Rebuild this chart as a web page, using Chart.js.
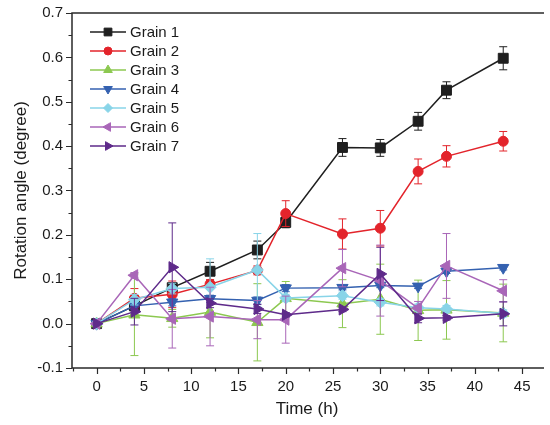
<!DOCTYPE html>
<html>
<head>
<meta charset="utf-8">
<script src="https://cdn.jsdelivr.net/npm/chart.js@4/dist/chart.umd.min.js"></script>
<style>
html, body { margin: 0; padding: 0; background: #fff; }
#wrap { width: 550px; height: 425px; position: relative; }
</style>
</head>
<body>
<div id="wrap"><canvas id="chart"></canvas></div>
<script>
// time points (h)
const times = [0, 4, 8, 12, 17, 20, 26, 30, 34, 37, 43];

// rotation angle (degree) per grain
const grain1 = [0, 0.040, 0.081, 0.118, 0.166, 0.228, 0.397, 0.396, 0.456, 0.526, 0.598];
const grain2 = [0, 0.057, 0.066, 0.089, 0.120, 0.248, 0.202, 0.215, 0.343, 0.377, 0.411];
const grain3 = [0, 0.020, 0.012, 0.026, 0.003, 0.057, 0.045, 0.055, 0.030, 0.031, 0.024];
const grain4 = [0, 0.040, 0.048, 0.056, 0.052, 0.080, 0.081, 0.086, 0.084, 0.118, 0.126];
const grain5 = [0, 0.054, 0.079, 0.082, 0.121, 0.058, 0.063, 0.048, 0.036, 0.033, 0.023];
const grain6 = [0, 0.109, 0.011, 0.016, 0.009, 0.009, 0.125, 0.097, 0.035, 0.130, 0.074];
const grain7 = [0, 0.027, 0.127, 0.046, 0.033, 0.020, 0.032, 0.112, 0.012, 0.013, 0.022];

// error bars (+/-)
const err1 = [0, 0.010, 0.010, 0.020, 0.020, 0.012, 0.020, 0.019, 0.020, 0.019, 0.026];
const err2 = [0, 0.022, 0.030, 0.010, 0.010, 0.029, 0.034, 0.040, 0.028, 0.024, 0.022];
const err3 = [0, 0.092, 0.020, 0.058, 0.087, 0.038, 0.054, 0.079, 0.068, 0.066, 0.065];
const err4 = [0, 0.008, 0.008, 0.008, 0.008, 0.008, 0.005, 0.005, 0.005, 0.005, 0.005];
const err5 = [0, 0.012, 0.012, 0.064, 0.082, 0.008, 0.008, 0.008, 0.008, 0.008, 0.008];
const err6 = [0, 0.006, 0.066, 0.066, 0.043, 0.053, 0.042, 0.080, 0.015, 0.073, 0.025];
const err7 = [0, 0.030, 0.100, 0.010, 0.010, 0.005, 0.005, 0.060, 0.010, 0.005, 0.027];

const names = ['Grain 1', 'Grain 2', 'Grain 3', 'Grain 4', 'Grain 5', 'Grain 6', 'Grain 7'];
const xTicks = [0, 5, 10, 15, 20, 25, 30, 35, 40, 45];
const yTicks = [-0.1, 0, 0.1, 0.2, 0.3, 0.4, 0.5, 0.6, 0.7];

const series = [grain1, grain2, grain3, grain4, grain5, grain6, grain7];
const errors = [err1, err2, err3, err4, err5, err6, err7];
const colors = ['#1f1f1f', '#e3242b', '#8cc850', '#3461b0', '#88d4e8', '#a966b8', '#5e2a8a'];
const shapes = ['rect', 'circle', 'triangle', 'triangle', 'rectRot', 'triangle', 'triangle'];
const rotations = [0, 0, 0, 180, 0, 270, 90];
const radii = [7, 5, 6.5, 6.5, 6, 6.5, 6.5];
const legendRadii = [5.5, 4, 5, 5, 4.5, 5, 5];

const FONT = '"Liberation Sans", Arial, sans-serif';

const datasets = series.map((vals, i) => ({
    label: names[i],
    data: vals.map((v, j) => ({ x: times[j], y: v })),
    errors: errors[i],
    borderColor: colors[i],
    backgroundColor: colors[i],
    borderWidth: 1.5,
    pointStyle: shapes[i],
    pointRotation: rotations[i],
    pointRadius: radii[i],
    pointBorderWidth: 1,
    tension: 0,
    order: -i,
    clip: false
}));

// vertical error bars, drawn under each dataset's markers
const errorBars = {
    id: 'errorBars',
    beforeDatasetDraw(chart, args) {
        const ds = chart.data.datasets[args.index];
        const y = chart.scales.y;
        const ctx = chart.ctx;
        ctx.save();
        ctx.strokeStyle = ds.borderColor;
        ctx.lineWidth = 1;
        args.meta.data.forEach((pt, i) => {
            const e = ds.errors[i];
            if (!e) return;
            const v = ds.data[i].y;
            const top = y.getPixelForValue(v + e);
            const bot = y.getPixelForValue(v - e);
            ctx.beginPath();
            ctx.moveTo(pt.x, top); ctx.lineTo(pt.x, bot);
            ctx.moveTo(pt.x - 4, top); ctx.lineTo(pt.x + 4, top);
            ctx.moveTo(pt.x - 4, bot); ctx.lineTo(pt.x + 4, bot);
            ctx.stroke();
        });
        ctx.restore();
    }
};

// box frame (left, top, bottom) with major/minor outward ticks
const frame = {
    id: 'frame',
    beforeDatasetsDraw(chart) {
        const { ctx, chartArea: a, scales: { x, y } } = chart;
        ctx.save();
        ctx.strokeStyle = '#2a2a2a';
        ctx.lineWidth = 1.5;
        ctx.beginPath();
        ctx.moveTo(a.right + 2, a.top); ctx.lineTo(a.left, a.top);
        ctx.lineTo(a.left, a.bottom); ctx.lineTo(a.right + 2, a.bottom);
        ctx.stroke();
        ctx.lineWidth = 1.2;
        ctx.beginPath();
        for (let t = -2.5; t <= x.max; t += 2.5) {
            if (t < x.min) continue;
            const px = Math.round(x.getPixelForValue(t)) + 0.5;
            const len = (t % 5 === 0) ? 6 : 3.5;
            ctx.moveTo(px, a.bottom); ctx.lineTo(px, a.bottom + len);
        }
        for (let k = -2; k <= 14; k++) {
            const v = k * 0.05;
            const py = Math.round(y.getPixelForValue(v)) + 0.5;
            const len = (k % 2 === 0) ? 6 : 3.5;
            ctx.moveTo(a.left, py); ctx.lineTo(a.left - len, py);
        }
        ctx.stroke();
        ctx.restore();
    }
};

// legend inside the plot: short line with marker, then name
const innerLegend = {
    id: 'innerLegend',
    afterDraw(chart) {
        const ctx = chart.ctx;
        ctx.save();
        chart.data.datasets.forEach((ds, i) => {
            const cy = 32 + i * 19;
            ctx.strokeStyle = ds.borderColor;
            ctx.fillStyle = ds.backgroundColor;
            ctx.lineWidth = 1.5;
            ctx.beginPath();
            ctx.moveTo(90, cy); ctx.lineTo(126, cy);
            ctx.stroke();
            ctx.lineWidth = 1;
            Chart.helpers.drawPoint(ctx, {
                pointStyle: ds.pointStyle,
                rotation: ds.pointRotation,
                radius: legendRadii[i],
                borderWidth: 1
            }, 108, cy);
            ctx.fillStyle = '#1a1a1a';
            ctx.font = '15px ' + FONT;
            ctx.textBaseline = 'middle';
            ctx.textAlign = 'left';
            ctx.fillText(ds.label, 130, cy + 1);
        });
        ctx.restore();
    }
};

new Chart(document.getElementById('chart'), {
    type: 'line',
    data: { datasets },
    plugins: [errorBars, frame, innerLegend],
    options: {
        responsive: true,
        maintainAspectRatio: false,
        animation: false,
        layout: { padding: { top: 13, right: 0, left: 0, bottom: 0 } },
        plugins: { legend: { display: false }, tooltip: { enabled: false } },
        scales: {
            x: {
                type: 'linear',
                min: -2.6,
                max: 47.1,
                afterBuildTicks: s => { s.ticks = xTicks.map(v => ({ value: v })); },
                afterFit: s => { s.height = 57; },
                grid: { display: false, drawTicks: true, tickLength: 6 },
                border: { display: false },
                ticks: { color: '#1a1a1a', padding: 4, maxRotation: 0, font: { family: FONT, size: 15 } },
                title: { display: true, text: 'Time (h)', color: '#1a1a1a', padding: { top: 0, bottom: 5 }, font: { family: FONT, size: 17 } }
            },
            y: {
                min: -0.1,
                max: 0.7,
                afterBuildTicks: s => { s.ticks = yTicks.map(v => ({ value: v })); },
                afterFit: s => { s.width = 72; },
                grid: { display: false, drawTicks: true, tickLength: 6 },
                border: { display: false },
                ticks: { color: '#1a1a1a', padding: 3, font: { family: FONT, size: 15 }, callback: v => v.toFixed(1) },
                title: { display: true, text: 'Rotation angle (degree)', color: '#1a1a1a', padding: { top: 11, bottom: 0 }, font: { family: FONT, size: 17 } }
            }
        }
    }
});
</script>
</body>
</html>
